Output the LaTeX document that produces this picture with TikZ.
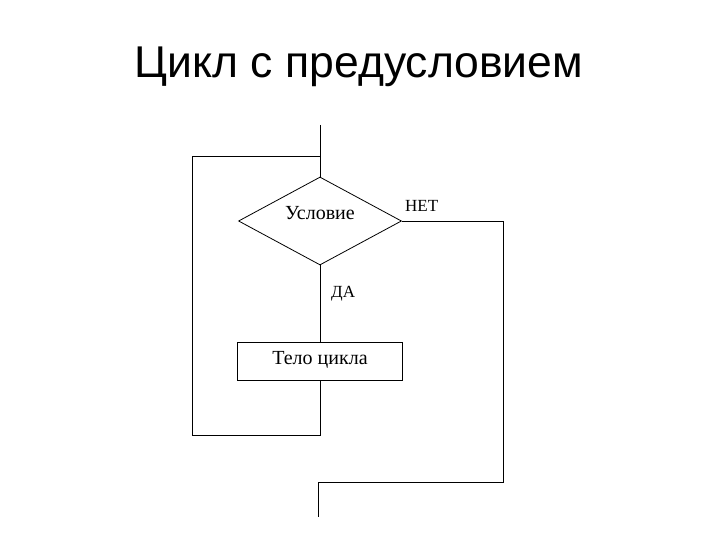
\documentclass[tikz,border=0pt]{standalone}
\usepackage{fontspec}
\setmainfont{Liberation Serif}
\newfontfamily\titlefont{Liberation Sans}
\usetikzlibrary{shapes.geometric, positioning}

\begin{document}
\begin{tikzpicture}[x=1pt, y=-1pt]
                \tikzstyle{cond} = [shape=diamond, draw, thick, aspect=1.85, minimum width=163pt, minimum height=88pt, inner sep=0pt, text height=14pt, text depth=16pt, font=\fontsize{20}{20}\selectfont];
                \tikzstyle{block} = [shape=rectangle, draw, thick, minimum width=165pt, minimum height=38pt, inner sep=0pt, text height=14pt, text depth=8pt, font=\fontsize{20}{20}\selectfont];
                \tikzstyle{lbl} = [inner sep=0pt, font=\fontsize{17}{17}\selectfont];

                \useasboundingbox[fill=white] (0,0) rectangle (720,540);

                \node[font=\titlefont\fontsize{44.5}{44.5}\selectfont](Title) at (359,67) {Цикл с предусловием};

                \node[cond](C) at (320,221) {Условие};
                \node[block](B) at (320,361) {Тело цикла};
                \node[lbl, anchor=west](No) at (405,206) {НЕТ};
                \node[lbl, anchor=west](Yes) at (331,294) {ДА};

                \coordinate (Start) at (320,125);
                \coordinate (LoopIn) at (320,156);
                \coordinate (LoopTL) at (192,156);
                \coordinate (LoopBL) at (192,435);
                \coordinate (LoopEnd) at (320,435);
                \coordinate (ExitTR) at (503,221);
                \coordinate (ExitBR) at (503,482);
                \coordinate (ExitBL) at (318,482);
                \coordinate (Finish) at (318,517);

                \draw[thick]
                    (Start) -- (C.north)
                    (C.south) -- (B.north)
                    (B.south) -- (LoopEnd) -- (LoopBL) -- (LoopTL) -- (LoopIn)
                    (C.east) -- (ExitTR) -- (ExitBR) -- (ExitBL) -- (Finish)
                ;
            \end{tikzpicture}
\end{document}
